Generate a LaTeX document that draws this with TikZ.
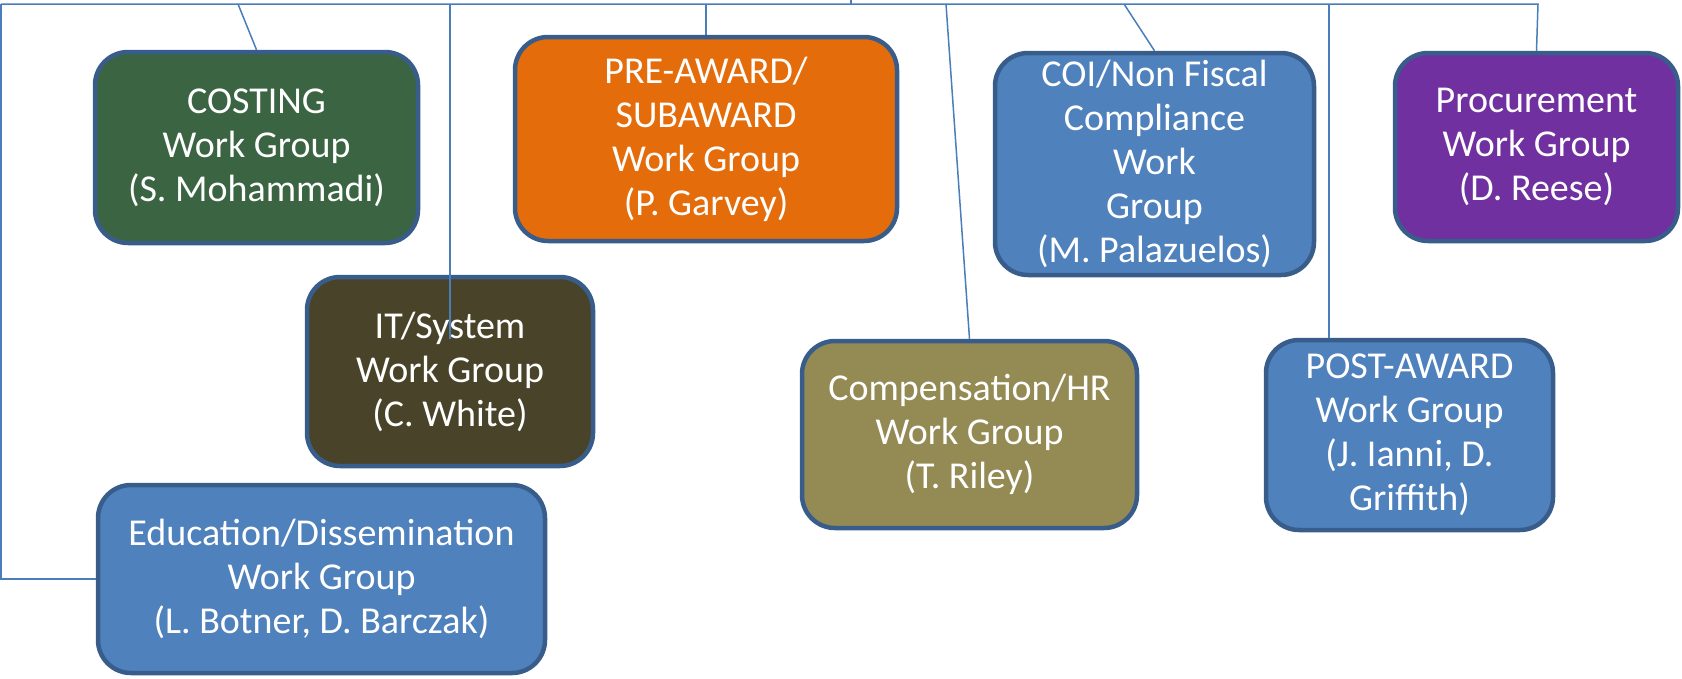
\documentclass[tikz,border=0pt]{standalone}
\usepackage{fontspec}
\setmainfont{Carlito}
\usepackage{tikz}
\usetikzlibrary{positioning}
\definecolor{wgborder}{HTML}{385D8A}
\definecolor{wgline}{HTML}{4A7EBB}
\definecolor{wgblue}{HTML}{4F81BD}
\definecolor{costgreen}{HTML}{3B6443}
\definecolor{preorange}{HTML}{E46C0A}
\definecolor{procpurple}{HTML}{7030A0}
\definecolor{itbrown}{HTML}{494429}
\definecolor{compolive}{HTML}{948A54}
\tikzset{wgbox/.style = {draw=wgborder, line width=4.5pt, rounded corners=33pt,
                         text=white, align=center, inner sep=0pt,
                         font=\fontsize{38}{44}\selectfont},
         conn/.style = {wgline, line width=1.5pt}}

\begin{document}
\begin{tikzpicture}[x=1pt, y=-1pt]
    \useasboundingbox (0, 0) rectangle (1682, 678);

    \node [wgbox, fill=costgreen, minimum width=323pt, minimum height=191pt] (costing) at (256.5, 147.5)
      {COSTING\\Work Group\\(S. Mohammadi)};
    \node [wgbox, fill=preorange, minimum width=382pt, minimum height=204pt] (preaward) at (706, 139)
      {PRE-AWARD/\\SUBAWARD\\Work Group\\(P. Garvey)};
    \node [wgbox, fill=wgblue, minimum width=319pt, minimum height=222pt] (coi) at (1154.5, 164)
      {COI/Non Fiscal\\Compliance\\Work\\Group\\(M. Palazuelos)};
    \node [wgbox, fill=procpurple, minimum width=283pt, minimum height=188pt] (proc) at (1536.5, 147)
      {Procurement\\Work Group\\(D. Reese)};
    \node [wgbox, fill=itbrown, minimum width=286pt, minimum height=189pt] (it) at (450, 371.5)
      {IT/System\\Work Group\\(C. White)};
    \node [wgbox, fill=compolive, minimum width=335pt, minimum height=187pt] (comp) at (969.5, 434.5)
      {Compensation/HR\\Work Group\\(T. Riley)};
    \node [wgbox, fill=wgblue, minimum width=287pt, minimum height=190pt] (postaward) at (1409.5, 435)
      {POST-AWARD\\Work Group\\(J. Ianni, D.\\Griffith)};
    \node [wgbox, fill=wgblue, minimum width=447pt, minimum height=188pt] (edu) at (321.5, 579)
      {Education/Dissemination\\Work Group\\(L. Botner, D. Barczak)};

    \coordinate (stem) at (851, 0);
    \coordinate (busleft) at (1, 4);
    \coordinate (busright) at (1538, 4);
    \coordinate (bcost) at (238, 4);
    \coordinate (bcomp) at (946, 4);
    \coordinate (bcoi) at (1124, 4);
    \coordinate (bpost) at (1329, 4);

    \draw [conn] (stem) -- (stem |- busleft);
    \draw [conn] (busleft) -- (busright) -- (proc.north);
    \draw [conn] (busleft) |- (edu.west);
    \draw [conn] (bcost) -- (costing.north);
    \draw [conn] (preaward.north |- busleft) -- (preaward.north);
    \draw [conn] (it.north |- busleft) -- ([yshift=33pt]it.center);
    \draw [conn] (bcomp) -- (comp.north);
    \draw [conn] (bcoi) -- (coi.north);
    \draw [conn] (bpost) -- (bpost |- postaward.north);
\end{tikzpicture}
\end{document}
